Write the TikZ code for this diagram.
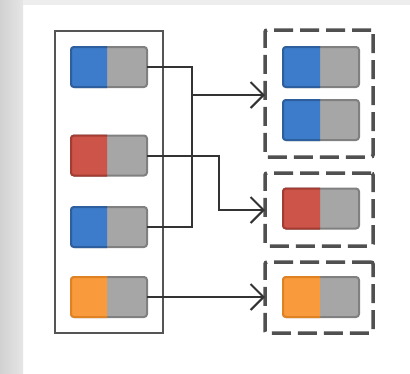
\documentclass[tikz,border=0pt]{standalone}
\usetikzlibrary{arrows.meta}
\definecolor{cblue}{HTML}{3D7CCA}
\definecolor{cblueb}{HTML}{2D5E9E}
\definecolor{cred}{HTML}{CD5448}
\definecolor{credb}{HTML}{A53C33}
\definecolor{corange}{HTML}{F99B3C}
\definecolor{coranb}{HTML}{E08222}
\definecolor{cgray}{HTML}{A6A6A6}
\definecolor{cgrayb}{HTML}{808080}
\definecolor{cline}{HTML}{333333}
\definecolor{cdash}{HTML}{505050}
\definecolor{cbox}{HTML}{555555}
\begin{document}
\begin{tikzpicture}[x=1pt,y=-1pt,
  every node/.style={outer sep=0pt, inner sep=0pt},
  part/.style={draw, line width=2pt, rounded corners=3pt, minimum height=40pt, minimum width=76pt},
  gpart/.style={part, fill=cgray, draw=cgrayb},
  bluepart/.style={part, fill=cblue, draw=cblueb},
  redpart/.style={part, fill=cred, draw=credb},
  orangepart/.style={part, fill=corange, draw=coranb},
  dbox/.style={draw=cdash, line width=3.5pt, dash pattern=on 19pt off 7pt, rounded corners=2pt, minimum width=108pt},
  sbox/.style={draw=cbox, line width=2pt},
  conn/.style={draw=cline, line width=2pt},
  arr/.style={conn, -{Straight Barb[length=13pt,width=26pt,line width=2pt]}}
]
\useasboundingbox (0,0) rectangle (410,373);
% background
\fill[white] (0,0) rectangle (410,373);
\shade[left color=gray!36, right color=gray!20] (0,0) rectangle (23,373);
\fill[gray!14] (23,0) rectangle (410,5);

% left container
\node[sbox, minimum width=108pt, minimum height=302pt] (L) at (109,182) {};

% dashed groups
\node[dbox, minimum height=127pt] (B1) at (319,93.5) {};
\node[dbox, minimum height=73pt] (B2) at (319,209.5) {};
\node[dbox, minimum height=71pt] (B3) at (319,297.5) {};

% items (gray body)
\node[gpart] (Lg1) at (109,67) {};
\node[gpart] (Lg2) at (109,155.5) {};
\node[gpart] (Lg3) at (109,227) {};
\node[gpart] (Lg4) at (109,297) {};
\node[gpart] (Rg1) at (321,67) {};
\node[gpart] (Rg2) at (321,120) {};
\node[gpart] (Rg3) at (321,208.5) {};
\node[gpart] (Rg4) at (321,297) {};

% coloured key halves
\begin{scope}
\clip (60,0) rectangle (107,373) (270,0) rectangle (320,373);
\node[bluepart] (Lc1) at (109,67) {};
\node[redpart] (Lc2) at (109,155.5) {};
\node[bluepart] (Lc3) at (109,227) {};
\node[orangepart] (Lc4) at (109,297) {};
\node[bluepart] (Rc1) at (321,67) {};
\node[bluepart] (Rc2) at (321,120) {};
\node[redpart] (Rc3) at (321,208.5) {};
\node[orangepart] (Rc4) at (321,297) {};
\end{scope}

% connectors
\coordinate (j1) at (192,95);
\coordinate (j2) at (219,210);
\draw[conn] (Lg1.east) -| (j1) |- (Lg3.east);
\draw[arr] (j1) -- (B1.west |- j1);
\draw[arr] (Lg2.east) -| (j2) -- (B2.west |- j2);
\draw[arr] (Lg4.east) -- (B3.west |- Lg4.east);
\end{tikzpicture}
\end{document}
